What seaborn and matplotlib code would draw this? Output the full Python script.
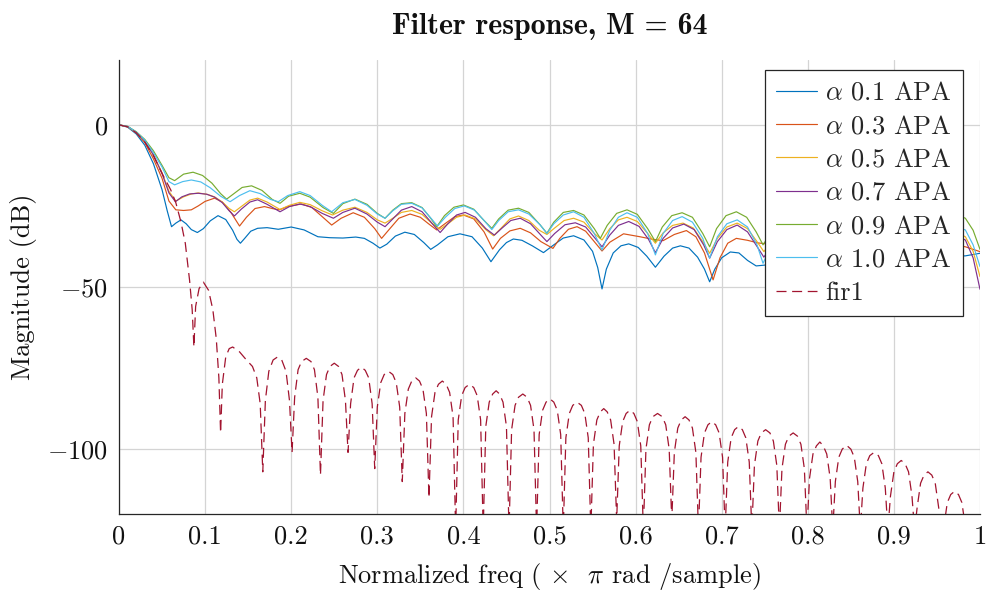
import matplotlib
matplotlib.use("Agg")
import matplotlib.pyplot as plt
import seaborn as sns
import pandas as pd

# ---------------- data ----------------
title = "Filter response, M = 64"
x_label = r"Normalized freq ( $\times$  $\pi$ rad /sample)"
y_label = "Magnitude (dB)"
x_ticks = [0, 0.1, 0.2, 0.3, 0.4, 0.5, 0.6, 0.7, 0.8, 0.9, 1.0]
x_tick_labels = ["0", "0.1", "0.2", "0.3", "0.4", "0.5", "0.6", "0.7", "0.8", "0.9", "1"]
y_ticks = [-100, -50, 0]
y_tick_labels = [r"$-100$", r"$-50$", r"$0$"]

series_names = [r"$\alpha$ 0.1 APA", r"$\alpha$ 0.3 APA", r"$\alpha$ 0.5 APA",
                r"$\alpha$ 0.7 APA", r"$\alpha$ 0.9 APA", r"$\alpha$ 1.0 APA", "fir1"]
series_colors = ["#0072BD", "#D95319", "#EDB120", "#7E2F8E", "#77AC30", "#4DBEEE", "#A2142F"]

apa_01 = [(0, 0), (0.01, -0.7), (0.02, -2.8), (0.03, -6.3), (0.04, -12), (0.05, -20), (0.056, -26.5),
          (0.061, -31.4), (0.066, -30.3), (0.072, -29.3), (0.078, -30.5), (0.084, -32.3), (0.091, -33.2),
          (0.098, -32.0), (0.106, -29.6), (0.115, -28.0), (0.124, -29.2), (0.132, -32.5), (0.137, -35.3),
          (0.141, -36.5), (0.146, -35.0), (0.153, -32.8), (0.161, -31.9), (0.172, -31.7), (0.185, -32.2),
          (0.2, -31.5), (0.215, -32.4), (0.231, -34.5), (0.245, -34.8), (0.26, -34.9), (0.275, -34.6),
          (0.285, -35.0), (0.295, -36.5), (0.303, -38.0), (0.311, -36.8), (0.321, -34.3), (0.332, -33.1),
          (0.343, -33.8), (0.354, -36.3), (0.362, -38.4), (0.37, -37.0), (0.382, -34.5), (0.396, -33.6),
          (0.41, -34.5), (0.422, -38.0), (0.432, -42.2), (0.442, -38.5), (0.45, -36.3), (0.458, -35.2),
          (0.468, -35.6), (0.48, -37.3), (0.493, -39.4), (0.505, -37.0), (0.516, -34.9), (0.528, -34.2),
          (0.54, -35.5), (0.55, -39.0), (0.556, -44.0), (0.561, -50.6), (0.566, -44.5), (0.574, -39.5),
          (0.583, -37.3), (0.592, -36.7), (0.603, -37.8), (0.613, -40.5), (0.623, -43.9), (0.633, -40.5),
          (0.643, -38.0), (0.652, -37.3), (0.662, -38.0), (0.672, -40.8), (0.68, -44.5), (0.686, -48.4),
          (0.692, -44.5), (0.7, -41.0), (0.71, -39.2), (0.72, -39.5), (0.73, -41.8), (0.74, -43.5),
          (0.752, -43.2), (0.77, -41.5), (0.79, -42.5), (0.81, -45.5), (0.83, -42.0), (0.85, -41.0),
          (0.87, -44.5), (0.89, -41.5), (0.91, -40.5), (0.935, -43.0), (0.955, -40.5), (0.97, -40.5),
          (0.983, -40.4), (1.0, -39.6)]

apa_03 = [(0, 0), (0.01, -0.6), (0.02, -2.5), (0.03, -5.5), (0.04, -10.5), (0.05, -16.5), (0.058, -23.5),
          (0.066, -26.2), (0.075, -26.4), (0.084, -26.2), (0.092, -25.0), (0.1, -23.6), (0.111, -22.6),
          (0.12, -23.8), (0.13, -27.0), (0.14, -31.2), (0.148, -28.5), (0.158, -25.8), (0.169, -25.2),
          (0.178, -25.8), (0.186, -26.2), (0.196, -25.2), (0.212, -24.4), (0.224, -25.5), (0.236, -28.3),
          (0.247, -30.9), (0.258, -28.8), (0.272, -27.1), (0.285, -28.5), (0.297, -32.0), (0.305, -35.0),
          (0.313, -32.5), (0.325, -28.8), (0.338, -27.5), (0.35, -28.5), (0.36, -30.6), (0.369, -32.4),
          (0.378, -30.6), (0.39, -28.3), (0.40, -27.8), (0.412, -29.0), (0.424, -33.0), (0.434, -38.3),
          (0.443, -35.0), (0.454, -32.7), (0.466, -31.9), (0.478, -33.3), (0.49, -36.0), (0.504, -38.1),
          (0.512, -35.0), (0.522, -32.2), (0.532, -31.4), (0.542, -32.8), (0.552, -36.0), (0.561, -38.9),
          (0.57, -36.2), (0.586, -33.6), (0.605, -34.5), (0.62, -35.3), (0.632, -35.7), (0.645, -33.8),
          (0.659, -32.6), (0.67, -34.5), (0.68, -39.5), (0.69, -47.8), (0.698, -41.0), (0.707, -36.5),
          (0.717, -35.0), (0.73, -35.6), (0.742, -36.4), (0.752, -36.7), (0.77, -35.5), (0.79, -35.0),
          (0.81, -38.0), (0.83, -36.0), (0.85, -35.5), (0.87, -38.0), (0.89, -36.5), (0.91, -36.0),
          (0.935, -38.5), (0.955, -37.0), (0.97, -37.0), (0.983, -37.6), (1.0, -39.1)]

apa_05 = [(0, 0), (0.01, -0.5), (0.02, -2.3), (0.03, -5.0), (0.04, -9.3), (0.05, -14.8), (0.058, -20.5),
          (0.066, -23.5), (0.075, -22.2), (0.084, -21.3), (0.092, -21.0), (0.102, -21.4), (0.111, -22.2),
          (0.12, -23.8), (0.128, -25.8), (0.134, -26.8), (0.142, -25.2), (0.152, -23.2), (0.161, -22.6),
          (0.172, -23.8), (0.187, -26.1), (0.198, -24.8), (0.21, -23.9), (0.222, -24.6), (0.236, -26.5),
          (0.248, -27.8), (0.26, -26.3), (0.274, -25.4), (0.288, -27.0), (0.3, -29.3), (0.309, -30.3),
          (0.318, -28.8), (0.328, -27.0), (0.34, -26.4), (0.352, -27.6), (0.364, -30.5), (0.373, -32.2),
          (0.382, -30.5), (0.392, -28.5), (0.402, -27.8), (0.414, -29.0), (0.426, -32.3), (0.435, -34.2),
          (0.444, -31.8), (0.454, -29.0), (0.464, -28.1), (0.476, -29.5), (0.488, -32.5), (0.497, -33.8),
          (0.506, -31.8), (0.517, -29.5), (0.528, -28.8), (0.54, -30.0), (0.552, -33.5), (0.561, -35.5),
          (0.57, -32.0), (0.58, -29.3), (0.59, -28.5), (0.602, -29.8), (0.614, -33.5), (0.623, -36.5),
          (0.632, -33.3), (0.643, -31.0), (0.655, -30.3), (0.667, -31.8), (0.678, -36.0), (0.686, -39.6),
          (0.695, -35.0), (0.706, -31.5), (0.718, -30.3), (0.73, -32.0), (0.741, -36.0), (0.749, -39.1),
          (0.765, -33.5), (0.78, -31.5), (0.795, -34.0), (0.81, -39.5), (0.826, -34.0), (0.842, -32.0),
          (0.857, -34.5), (0.873, -40.0), (0.889, -34.5), (0.905, -32.5), (0.92, -35.0), (0.936, -40.5),
          (0.951, -35.0), (0.967, -32.5), (0.983, -34.5), (0.992, -39.0), (1.0, -46.8)]

apa_07 = [(0, 0), (0.01, -0.5), (0.02, -2.3), (0.03, -5.0), (0.04, -9.3), (0.05, -15.0), (0.058, -21.0),
          (0.0655, -23.7), (0.073, -22.2), (0.082, -21.3), (0.092, -21.1), (0.102, -21.4), (0.111, -22.3),
          (0.12, -24.0), (0.128, -26.5), (0.134, -28.1), (0.142, -26.0), (0.152, -23.8), (0.161, -23.1),
          (0.172, -24.5), (0.187, -26.8), (0.198, -25.2), (0.21, -24.4), (0.222, -25.2), (0.236, -27.3),
          (0.249, -28.8), (0.26, -27.0), (0.274, -25.7), (0.288, -27.5), (0.3, -30.0), (0.309, -31.4),
          (0.318, -29.0), (0.328, -26.3), (0.34, -25.2), (0.352, -26.8), (0.364, -30.5), (0.373, -33.2),
          (0.382, -30.5), (0.392, -27.8), (0.402, -27.0), (0.414, -28.5), (0.426, -32.0), (0.436, -34.0),
          (0.445, -31.8), (0.455, -29.5), (0.466, -28.8), (0.478, -30.5), (0.49, -34.0), (0.497, -36.0),
          (0.506, -33.5), (0.518, -30.8), (0.53, -30.2), (0.542, -31.5), (0.553, -35.0), (0.561, -37.6),
          (0.57, -34.0), (0.58, -31.0), (0.592, -29.8), (0.604, -31.3), (0.615, -35.3), (0.623, -39.4),
          (0.632, -35.0), (0.643, -31.8), (0.656, -30.6), (0.668, -32.3), (0.679, -37.0), (0.686, -41.1),
          (0.695, -36.0), (0.706, -32.3), (0.718, -30.9), (0.73, -33.0), (0.741, -37.5), (0.749, -40.8),
          (0.765, -34.5), (0.78, -32.5), (0.795, -35.0), (0.81, -41.0), (0.826, -35.0), (0.842, -33.0),
          (0.857, -35.5), (0.873, -41.5), (0.889, -35.5), (0.905, -33.5), (0.92, -36.0), (0.936, -42.0),
          (0.951, -36.0), (0.967, -33.8), (0.983, -35.5), (0.992, -41.0), (1.0, -50.7)]

apa_09 = [(0, 0), (0.01, -0.5), (0.02, -2.1), (0.03, -4.5), (0.04, -8.0), (0.05, -12.5), (0.058, -16.3),
          (0.0646, -17.2), (0.075, -15.2), (0.086, -14.6), (0.097, -15.6), (0.108, -18.0), (0.118, -21.2),
          (0.125, -22.9), (0.133, -21.3), (0.143, -19.3), (0.154, -18.8), (0.166, -20.2), (0.178, -23.0),
          (0.187, -24.2), (0.197, -22.0), (0.21, -21.1), (0.222, -22.3), (0.237, -25.5), (0.249, -27.3),
          (0.26, -24.3), (0.274, -22.9), (0.288, -24.5), (0.3, -27.3), (0.309, -28.8), (0.318, -26.3),
          (0.328, -24.3), (0.34, -24.0), (0.352, -25.5), (0.362, -28.8), (0.369, -31.4), (0.378, -28.0),
          (0.389, -25.4), (0.40, -24.7), (0.412, -26.0), (0.424, -29.5), (0.433, -31.9), (0.441, -29.0),
          (0.452, -26.3), (0.464, -25.7), (0.476, -27.0), (0.489, -30.8), (0.497, -33.4), (0.505, -30.0),
          (0.516, -27.0), (0.528, -26.4), (0.54, -27.8), (0.552, -32.0), (0.559, -35.0), (0.567, -31.0),
          (0.578, -27.3), (0.59, -26.2), (0.602, -27.6), (0.614, -32.0), (0.623, -36.0), (0.631, -31.5),
          (0.642, -28.0), (0.654, -27.1), (0.666, -28.5), (0.678, -33.5), (0.686, -37.6), (0.694, -32.0),
          (0.705, -28.0), (0.717, -26.8), (0.729, -28.5), (0.74, -33.0), (0.748, -37.0), (0.765, -30.0),
          (0.78, -27.0), (0.795, -29.5), (0.81, -37.5), (0.826, -29.5), (0.842, -27.0), (0.857, -29.5),
          (0.873, -37.5), (0.889, -29.5), (0.905, -27.0), (0.92, -29.5), (0.936, -37.5), (0.951, -29.0),
          (0.967, -27.0), (0.983, -28.8), (0.992, -32.5), (1.0, -38.4)]

apa_10 = [(0, 0), (0.01, -0.5), (0.02, -2.2), (0.03, -4.7), (0.04, -8.6), (0.05, -13.0), (0.058, -17.5),
          (0.0646, -18.5), (0.074, -17.5), (0.084, -17.0), (0.095, -17.6), (0.106, -19.4), (0.118, -22.0),
          (0.129, -23.7), (0.14, -21.8), (0.152, -20.3), (0.164, -21.2), (0.176, -23.0), (0.185, -23.7),
          (0.196, -21.8), (0.21, -20.6), (0.222, -21.8), (0.236, -24.8), (0.247, -26.8), (0.26, -24.0),
          (0.274, -23.0), (0.288, -24.8), (0.3, -27.5), (0.309, -28.8), (0.318, -26.5), (0.328, -24.5),
          (0.34, -24.2), (0.352, -25.6), (0.363, -29.0), (0.37, -31.2), (0.379, -28.5), (0.39, -25.8),
          (0.401, -25.0), (0.413, -26.3), (0.425, -29.8), (0.433, -32.3), (0.441, -29.5), (0.452, -26.8),
          (0.464, -26.2), (0.476, -27.5), (0.489, -30.8), (0.497, -33.5), (0.505, -30.5), (0.516, -27.8),
          (0.528, -26.8), (0.54, -28.5), (0.552, -33.5), (0.561, -38.6), (0.57, -32.5), (0.58, -28.5),
          (0.59, -27.1), (0.602, -28.5), (0.614, -33.5), (0.623, -40.1), (0.632, -33.5), (0.643, -29.5),
          (0.654, -28.3), (0.666, -30.0), (0.678, -35.0), (0.686, -41.1), (0.695, -34.5), (0.706, -30.5),
          (0.718, -29.3), (0.73, -31.5), (0.741, -37.0), (0.748, -42.7), (0.765, -33.0), (0.78, -30.5),
          (0.795, -33.0), (0.81, -42.0), (0.826, -33.0), (0.842, -31.0), (0.857, -33.5), (0.873, -42.0),
          (0.889, -33.0), (0.905, -31.0), (0.92, -33.5), (0.936, -42.0), (0.951, -33.0), (0.967, -31.0),
          (0.983, -32.4), (0.992, -37.0), (1.0, -43.7)]

fir1 = [(0, 0), (0.01, -0.6), (0.02, -2.4), (0.03, -5.3), (0.04, -9.5), (0.05, -15.0), (0.06, -20.0),
        (0.066, -24.0), (0.072, -30.0), (0.077, -36.5), (0.082, -48.0), (0.085, -57.0), (0.087, -68.5),
        (0.089, -56), (0.093, -50.5), (0.098, -48.5), (0.104, -51), (0.109, -57), (0.113, -66), (0.116, -78),
        (0.118, -95),
        (0.120, -80), (0.124, -71.5), (0.128, -69), (0.132, -68.5), (0.14, -70), (0.148, -72.5), (0.155, -74.5),
        (0.16, -78), (0.164, -86), (0.167, -107),
        (0.170, -85), (0.174, -76), (0.179, -72.5), (0.184, -71.6), (0.189, -72.5), (0.194, -76), (0.198, -85),
        (0.201, -101),
        (0.204, -84), (0.208, -75.5), (0.212, -73), (0.2175, -72), (0.223, -73), (0.227, -75.5), (0.231, -84),
        (0.234, -108),
        (0.237, -85), (0.241, -77), (0.245, -74.5), (0.25, -73.5), (0.255, -74.5), (0.259, -77), (0.263, -85),
        (0.266, -101),
        (0.269, -86), (0.273, -78), (0.277, -75.7), (0.2815, -74.7), (0.286, -75.7), (0.29, -78), (0.294, -86),
        (0.297, -106),
        (0.300, -87), (0.304, -79.5), (0.308, -77), (0.313, -76), (0.318, -77), (0.322, -79.5), (0.326, -87),
        (0.329, -110),
        (0.332, -89), (0.336, -81.5), (0.340, -79), (0.3445, -78), (0.349, -79), (0.353, -81.5), (0.357, -89),
        (0.360, -115),
        (0.363, -90), (0.367, -82.5), (0.371, -80), (0.3755, -79), (0.38, -80), (0.384, -82.5), (0.388, -90),
        (0.391, -125),
        (0.394, -91), (0.398, -83.5), (0.402, -81), (0.407, -80), (0.412, -81), (0.416, -83.5), (0.42, -91),
        (0.423, -125),
        (0.426, -93), (0.43, -85.5), (0.434, -83), (0.438, -82), (0.442, -83), (0.446, -85.5), (0.45, -93),
        (0.453, -125),
        (0.456, -94), (0.46, -86.5), (0.464, -84), (0.469, -83), (0.474, -84), (0.478, -86.5), (0.482, -94),
        (0.485, -125),
        (0.488, -95.5), (0.492, -88), (0.496, -85.5), (0.5005, -84.5), (0.505, -85.5), (0.509, -88),
        (0.513, -95.5), (0.516, -125),
        (0.519, -96.5), (0.523, -89), (0.527, -86.5), (0.532, -85.5), (0.537, -86.5), (0.541, -89),
        (0.545, -96.5), (0.548, -125),
        (0.551, -98.5), (0.555, -91), (0.559, -88.5), (0.563, -87.5), (0.567, -88.5), (0.571, -91),
        (0.575, -98.5), (0.578, -122),
        (0.581, -99), (0.585, -91.5), (0.589, -89), (0.5935, -88), (0.598, -89), (0.602, -91.5), (0.606, -99),
        (0.609, -125),
        (0.612, -100), (0.616, -92.5), (0.62, -90), (0.6255, -89), (0.631, -90), (0.635, -92.5), (0.639, -100),
        (0.642, -122),
        (0.645, -101), (0.649, -93.5), (0.653, -91), (0.6575, -90), (0.662, -91), (0.666, -93.5), (0.67, -101),
        (0.673, -125),
        (0.676, -102.5), (0.68, -95), (0.684, -92.5), (0.6885, -91.5), (0.693, -92.5), (0.697, -95),
        (0.701, -102.5), (0.704, -125),
        (0.707, -104), (0.711, -96.5), (0.715, -94), (0.7195, -93), (0.724, -94), (0.728, -96.5), (0.732, -104),
        (0.735, -125),
        (0.738, -105), (0.742, -97.5), (0.746, -95), (0.751, -94), (0.756, -95), (0.76, -97.5), (0.764, -105),
        (0.767, -125),
        (0.770, -106), (0.774, -98.5), (0.778, -96), (0.783, -95), (0.788, -96), (0.792, -98.5), (0.796, -106),
        (0.799, -125),
        (0.802, -109), (0.806, -101.5), (0.81, -99), (0.814, -97.8), (0.818, -99), (0.822, -101.5),
        (0.826, -109), (0.829, -125),
        (0.832, -110), (0.836, -102.5), (0.84, -100), (0.845, -98.8), (0.85, -100), (0.854, -102.5),
        (0.858, -110), (0.861, -125),
        (0.864, -112), (0.868, -104.5), (0.872, -102), (0.877, -101), (0.882, -102), (0.886, -104.5),
        (0.89, -112), (0.893, -125),
        (0.896, -114.5), (0.9, -107), (0.904, -104.5), (0.9085, -103.5), (0.913, -104.5), (0.917, -107),
        (0.921, -114.5), (0.924, -125),
        (0.927, -118), (0.931, -110.5), (0.935, -108), (0.9395, -107), (0.944, -108), (0.948, -110.5),
        (0.952, -118), (0.955, -125),
        (0.958, -124), (0.962, -116.5), (0.966, -114), (0.9705, -113), (0.975, -114), (0.979, -116.5),
        (0.983, -124), (0.986, -128), (1.0, -130)]

all_series = [apa_01, apa_03, apa_05, apa_07, apa_09, apa_10, fir1]

# ---------------- style ----------------
sns.set_theme(style="white")
plt.rcParams.update({
    "font.family": ["cmr10", "DejaVu Serif"],
    "mathtext.fontset": "cm",
    "axes.formatter.use_mathtext": True,
    "axes.unicode_minus": False,
    "font.size": 19,
})

FS = 19

fig = plt.figure(figsize=(9.92, 5.95), dpi=100)
ax = fig.add_axes([119 / 992, 1 - 514 / 595, 861 / 992, 454 / 595])

frames = []
for name, pts in zip(series_names, all_series):
    df = pd.DataFrame(pts, columns=["freq", "mag"])
    df["series"] = name
    frames.append(df)
data = pd.concat(frames, ignore_index=True)

for name, color in zip(series_names, series_colors):
    sub = data[data["series"] == name]
    kw = dict(linewidth=0.85)
    if name == "fir1":
        kw["linestyle"] = (0, (8, 4.5))
        kw["linewidth"] = 0.9
    sns.lineplot(data=sub, x="freq", y="mag", ax=ax, color=color, label=name,
                 estimator=None, sort=False, **kw)

ax.set_xlim(0, 1)
ax.set_ylim(-120, 20)
ax.set_xticks(x_ticks)
ax.set_xticklabels(x_tick_labels)
ax.set_yticks(y_ticks)
ax.set_yticklabels(y_tick_labels)

ax.grid(True, color="#d4d4d4", linewidth=0.9)
ax.set_axisbelow(True)
for s in ["top", "right"]:
    ax.spines[s].set_visible(False)
for s in ["left", "bottom"]:
    ax.spines[s].set_color("#262626")
    ax.spines[s].set_linewidth(0.9)
ax.tick_params(axis="both", direction="in", length=5, width=0.8, color="#262626",
               labelsize=FS, labelcolor="#111111")
ax.tick_params(axis="x", pad=8)
ax.tick_params(axis="y", pad=8)

ax.set_xlabel(x_label, fontsize=FS, labelpad=9, color="#111111")
ax.set_ylabel(y_label, fontsize=FS, labelpad=7, color="#111111")
ax.set_title(title, fontsize=21.5, fontfamily="cmb10", pad=19, color="#111111")

leg = ax.legend(loc="upper right", bbox_to_anchor=(0.980, 0.978), borderaxespad=0,
                fontsize=FS, frameon=True, fancybox=False, framealpha=1, edgecolor="#262626",
                handlelength=1.55, handletextpad=0.3, labelspacing=0.365, borderpad=0.42)
leg.get_frame().set_linewidth(0.9)

fig.savefig("out.png", dpi=100)
